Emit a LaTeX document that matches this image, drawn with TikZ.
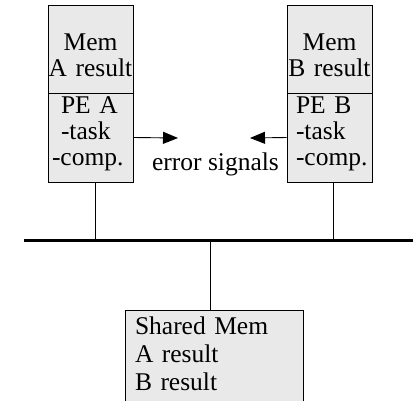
\documentclass[tikz,border=0pt]{standalone}
\usepackage{fontspec}
\setmainfont{Liberation Serif}
\usetikzlibrary{arrows.meta}
\definecolor{boxgray}{HTML}{E9E9E9}
\newcommand{\diagfont}{\fontsize{25.5}{26}\selectfont}

\begin{document}
\begin{tikzpicture}[x=1pt, y=-1pt, line width=0.9pt, font=\diagfont,
    membox/.style={draw, fill=boxgray, minimum width=85pt, minimum height=88pt,
      inner sep=0pt, text width=85pt, align=center, text height=28pt, text depth=26pt},
    pebox/.style={draw, fill=boxgray, minimum width=85pt, minimum height=89pt,
      inner ysep=0pt, inner xsep=4pt, text width=77pt, align=left,
      text height=7pt, text depth=56pt},
    sharedbox/.style={draw, fill=boxgray, minimum width=178pt, minimum height=94pt,
      inner ysep=0pt, inner xsep=10pt, text width=158pt, align=left,
      font=\fontsize{25.5}{28}\selectfont, text height=10pt, text depth=56pt},
    sig/.style={-{Triangle[length=15pt,width=12pt]}},
    bus/.style={line width=3pt}]

\clip (0,0) rectangle (419,400);

% processing elements
\node[membox] (memA) at (90.5,49) {Mem\\A result};
\node[pebox] (peA) at (90.5,137.5) {\hspace{9pt}PE A\\\hspace{9pt}-task\\-comp.};
\node[membox] (memB) at (329.5,49) {Mem\\B result};
\node[pebox] (peB) at (329.5,137.5) {\hspace{5pt}PE B\\\hspace{5pt}-task\\\hspace{5pt}-comp.};

% error signals
\coordinate (errA) at (178,138);
\coordinate (errB) at (250,138);
\draw[sig] (peA.east) -- (errA);
\draw[sig] (peB.west) -- (errB);
\node[anchor=base] (errtext) at (215.5,170) {error signals};

% bus
\coordinate (busL) at (24,240);
\coordinate (busR) at (413,240);
\draw[bus] (busL) -- (busR);
\draw ([xshift=4.5pt]peA.south) -- ([xshift=4.5pt]peA.south |- busL);
\draw ([xshift=3.5pt]peB.south) -- ([xshift=3.5pt]peB.south |- busL);

% shared memory
\node[sharedbox] (shared) at (214,357) {Shared Mem\\A result\\B result};
\draw ([xshift=-4pt]shared.north |- busL) -- ([xshift=-4pt]shared.north);

\end{tikzpicture}
\end{document}
